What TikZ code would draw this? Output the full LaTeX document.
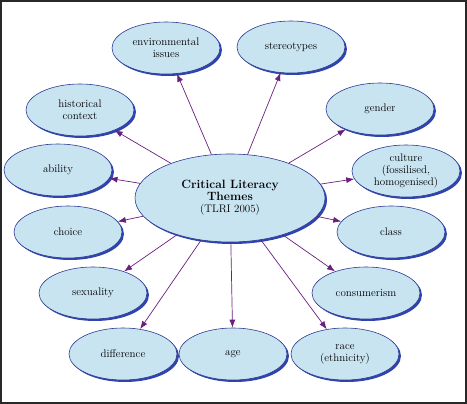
\documentclass[tikz,border=0pt]{standalone}
\usepackage{tikz}
\usetikzlibrary{arrows.meta,shapes.geometric,shadows}
\definecolor{themefill}{RGB}{200,228,241}
\definecolor{themeline}{RGB}{46,58,146}
\definecolor{themeshade}{RGB}{48,68,176}
\definecolor{linkcol}{RGB}{106,30,126}
\definecolor{framecol}{RGB}{40,40,40}
\newcommand{\titlefont}{\fontsize{12}{14}\selectfont\bfseries}

\begin{document}
\begin{tikzpicture}[x=1pt,y=-1pt,>=Latex,font=\fontsize{11}{12}\selectfont,
 theme/.style={ellipse,draw=themeline,line width=.6pt,fill=themefill,align=center,inner sep=1pt,
  minimum width=108pt,minimum height=52pt,
  drop shadow={shadow xshift=2pt,shadow yshift=-2pt,fill=themeshade,opacity=1}},
 link/.style={draw=linkcol,line width=.7pt,-{Latex[length=8pt,width=6pt]},linkcol}]
 \useasboundingbox (0,0) rectangle (467,404);
 \draw[framecol,line width=1.6pt] (1.2,1.2) rectangle (465.8,402.8);
 \node[theme,minimum width=190pt,minimum height=88pt] (crit) at (230,198)
 {\titlefont Critical Literacy\\\titlefont Themes\\(TLRI 2005)};
 \node[theme] (env) at (166,48) {environmental\\issues};
 \node[theme] (stereo) at (291,47) {stereotypes};
 \node[theme] (hist) at (80,110) {historical\\context};
 \node[theme] (gender) at (380,109) {gender};
 \node[theme] (ability) at (58,170) {ability};
 \node[theme] (culture) at (406,171) {culture\\(fossilised,\\homogenised)};
 \node[theme] (choice) at (68,232) {choice};
 \node[theme] (class) at (391,232) {class};
 \node[theme] (sex) at (93,293) {sexuality};
 \node[theme] (consum) at (366,293) {consumerism};
 \node[theme] (diff) at (123,354) {difference};
 \node[theme] (age) at (233,354) {age};
 \node[theme] (race) at (345,354) {race\\(ethnicity)};
 \draw[link] (crit)--(env); \draw[link] (crit)--(stereo);
 \draw[link] (crit)--(hist); \draw[link] (crit)--(gender);
 \draw[link] (crit)--(ability); \draw[link] (crit)--(culture);
 \draw[link] (crit)--(choice); \draw[link] (crit)--(class);
 \draw[link] (crit)--(sex); \draw[link] (crit)--(consum);
 \draw[link] (crit)--(diff); \draw[link] (crit)--(age);
 \draw[link] (crit)--(race);
\end{tikzpicture}
\end{document}
